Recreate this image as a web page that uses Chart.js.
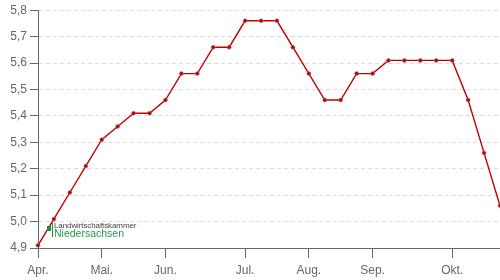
<!DOCTYPE html>
<html>
<head>
<meta charset="utf-8">
<script src="https://cdn.jsdelivr.net/npm/chart.js@4/dist/chart.umd.min.js"></script>
<style>
    html, body { margin: 0; padding: 0; background: #fff; }
    #wrap { position: relative; width: 500px; height: 280px; }
    #logo { position: absolute; left: 47px; top: 221px; font-family: 'Liberation Sans', Arial, sans-serif; }
    #logo .mark { position: absolute; left: 0; top: 5px; width: 4px; height: 5px; background: #1f8a43; }
    #logo .bar { position: absolute; left: 5px; top: 2px; width: 1px; height: 14px; background: #1f8a43; }
    #logo .top { position: absolute; left: 7px; top: 0; font-size: 8px; color: #444; white-space: nowrap; letter-spacing: -0.1px; }
    #logo .bottom { position: absolute; left: 7px; top: 6px; font-size: 10.5px; color: #1e9b4b; white-space: nowrap; }
</style>
</head>
<body>
<div id="wrap">
    <canvas id="priceChart"></canvas>
    <div id="logo">
        <div class="mark"></div>
        <div class="bar"></div>
        <div class="top">Landwirtschaftskammer</div>
        <div class="bottom">Niedersachsen</div>
    </div>
</div>
<script>
// weekly points, month name on the week that holds the 1st
const weekLabels = ['Apr.', '', '', '', 'Mai.', '', '', '', 'Jun.', '', '', '', '', 'Jul.', '', '', '',
    'Aug.', '', '', '', 'Sep.', '', '', '', '', 'Okt.', '', '', ''];
const prices = [4.91, 5.01, 5.11, 5.21, 5.31, 5.36, 5.41, 5.41, 5.46, 5.56, 5.56, 5.66, 5.66, 5.76, 5.76,
    5.76, 5.66, 5.56, 5.46, 5.46, 5.56, 5.56, 5.61, 5.61, 5.61, 5.61, 5.61, 5.46, 5.26, 5.06];
const yMin = 4.9;
const yMax = 5.8;
const yStep = 0.1;

document.addEventListener('DOMContentLoaded', () => {
    const ctx = document.getElementById('priceChart');

    new Chart(ctx.getContext('2d'), {
        type: 'line',
        data: {
            labels: weekLabels,
            datasets: [{
                data: prices,
                borderColor: '#c40000',
                borderWidth: 1.4,
                pointRadius: 2,
                pointBackgroundColor: '#c00000',
                pointBorderColor: 'rgba(140,140,140,0.7)',
                pointBorderWidth: 0.8,
                tension: 0
            }]
        },
        options: {
            responsive: true,
            maintainAspectRatio: false,
            animation: false,
            layout: {
                autoPadding: false,
                padding: { top: 2, right: 0, bottom: 0, left: 0 }
            },
            plugins: {
                legend: { display: false },
                tooltip: { enabled: false }
            },
            scales: {
                x: {
                    afterFit: scale => {
                        scale.height = 32;
                        scale.paddingRight = 0; // line runs to the right edge
                    },
                    grid: {
                        drawOnChartArea: false,
                        tickLength: 10,
                        tickColor: c => weekLabels[c.index] ? '#666' : 'rgba(0,0,0,0)'
                    },
                    border: { color: '#666' },
                    ticks: {
                        autoSkip: false,
                        maxRotation: 0,
                        padding: 5,
                        color: '#666',
                        font: { family: "'Liberation Sans', Arial, sans-serif", size: 12 }
                    }
                },
                y: {
                    min: yMin,
                    max: yMax,
                    afterFit: scale => { scale.width = 38; },
                    grid: {
                        color: c => c.index === 0 ? 'rgba(0,0,0,0)' : '#dcdcdc',
                        tickLength: 8,
                        tickColor: '#666'
                    },
                    border: { color: '#666', dash: [4, 3] },
                    ticks: {
                        stepSize: yStep,
                        padding: 3,
                        color: '#666',
                        font: { family: "'Liberation Sans', Arial, sans-serif", size: 12 },
                        callback: v => v.toFixed(1).replace('.', ',')
                    }
                }
            }
        }
    });
});
</script>
</body>
</html>
